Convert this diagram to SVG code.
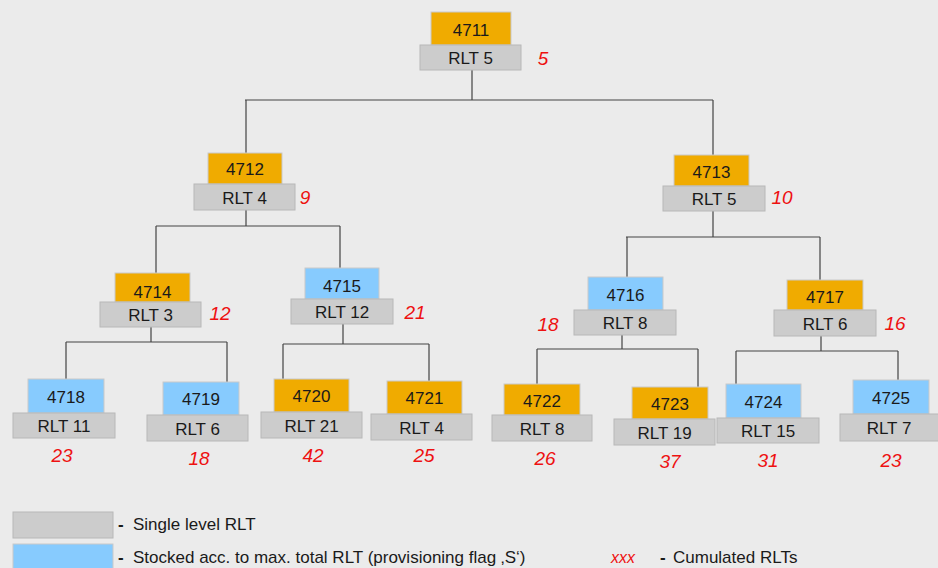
<svg xmlns="http://www.w3.org/2000/svg" width="938" height="568" viewBox="0 0 938 568">
<style>
.bg{fill:#ebebeb}
.o{fill:#f0ab00;stroke:#c9c9c9;stroke-width:1}
.b{fill:#87cbfe;stroke:#c9c9c9;stroke-width:1}
.g{fill:#cccccc;stroke:#b8b8b8;stroke-width:1}
.t{font-family:"Liberation Sans",Arial,sans-serif;font-size:17px;fill:#1a1a1a;text-anchor:middle}
.r{font-family:"Liberation Sans",Arial,sans-serif;font-size:17px;fill:#1a1a1a;text-anchor:middle}
.c{font-family:"Liberation Sans",Arial,sans-serif;font-size:19px;font-style:italic;fill:#ee1111;text-anchor:middle}
.l{font-family:"Liberation Sans",Arial,sans-serif;font-size:17px;fill:#1a1a1a}
.k{fill:none;stroke:#444;stroke-width:1.2}
</style>
<rect class="bg" x="0" y="0" width="938" height="568"/>
<g id="connectors" class="k">
<path d="M472 70V100M245 100H713M246 100V153M713 100V155"/>
<path d="M246 210V226M156 226H340M156 226V273M340 226V268"/>
<path d="M713 211V237M626 237H820M627 237V277M820 237V280"/>
<path d="M151 327V342M66 342H227M66 342V379M227 342V382"/>
<path d="M343 324V344M283 344H429M283 344V379M429 344V381"/>
<path d="M622 335V349M537 349H698M537 349V384M698 349V387"/>
<path d="M821 336V351M736 351H898M736 351V384M898 351V380"/>
</g>
<g id="n4711"><rect class="o" x="431" y="12" width="80" height="33"/><rect class="g" x="420" y="45" width="101" height="25"/><text class="t" x="471" y="36">4711</text><text class="r" x="470.500" y="64">RLT 5</text><text class="c" x="543" y="65">5</text></g>
<g id="n4712"><rect class="o" x="208" y="153" width="74" height="31"/><rect class="g" x="194" y="184" width="101" height="26"/><text class="t" x="245" y="175">4712</text><text class="r" x="244.500" y="204">RLT 4</text><text class="c" x="305" y="204">9</text></g>
<g id="n4713"><rect class="o" x="674" y="155" width="75" height="31"/><rect class="g" x="663" y="186" width="102" height="25"/><text class="t" x="711.500" y="178">4713</text><text class="r" x="714" y="205">RLT 5</text><text class="c" x="782" y="204">10</text></g>
<g id="n4714"><rect class="o" x="115" y="273" width="75" height="29"/><rect class="g" x="100" y="302" width="101" height="25"/><text class="t" x="152.500" y="298">4714</text><text class="r" x="150.500" y="321">RLT 3</text><text class="c" x="220" y="320">12</text></g>
<g id="n4715"><rect class="b" x="305" y="268" width="74" height="31"/><rect class="g" x="291" y="299" width="102" height="25"/><text class="t" x="342" y="292">4715</text><text class="r" x="342" y="318">RLT 12</text><text class="c" x="415" y="319">21</text></g>
<g id="n4716"><rect class="b" x="588" y="277" width="75" height="33"/><rect class="g" x="574" y="310" width="102" height="25"/><text class="t" x="625.500" y="301">4716</text><text class="r" x="625" y="329">RLT 8</text><text class="c" x="548" y="331">18</text></g>
<g id="n4717"><rect class="o" x="787" y="280" width="76" height="30"/><rect class="g" x="774" y="310" width="102" height="26"/><text class="t" x="825" y="303">4717</text><text class="r" x="825" y="330">RLT 6</text><text class="c" x="895" y="330">16</text></g>
<g id="n4718"><rect class="b" x="28" y="379" width="76" height="34"/><rect class="g" x="13" y="413" width="102" height="25"/><text class="t" x="66" y="403">4718</text><text class="r" x="64" y="432">RLT 11</text><text class="c" x="62" y="462">23</text></g>
<g id="n4719"><rect class="b" x="163" y="382" width="76" height="33"/><rect class="g" x="147" y="415" width="101" height="26"/><text class="t" x="201" y="405">4719</text><text class="r" x="197.500" y="435">RLT 6</text><text class="c" x="199" y="465">18</text></g>
<g id="n4720"><rect class="o" x="274" y="379" width="75" height="33"/><rect class="g" x="261" y="412" width="101" height="26"/><text class="t" x="311.500" y="402">4720</text><text class="r" x="311.500" y="432">RLT 21</text><text class="c" x="313" y="462">42</text></g>
<g id="n4721"><rect class="o" x="387" y="381" width="75" height="33"/><rect class="g" x="371" y="414" width="101" height="26"/><text class="t" x="424.500" y="404">4721</text><text class="r" x="421.500" y="434">RLT 4</text><text class="c" x="424" y="462">25</text></g>
<g id="n4722"><rect class="o" x="504" y="384" width="76" height="31"/><rect class="g" x="492" y="415" width="100" height="26"/><text class="t" x="542" y="407">4722</text><text class="r" x="542" y="435">RLT 8</text><text class="c" x="545" y="465">26</text></g>
<g id="n4723"><rect class="o" x="632" y="387" width="76" height="32"/><rect class="g" x="614" y="419" width="101" height="26"/><text class="t" x="670" y="410">4723</text><text class="r" x="664.500" y="439">RLT 19</text><text class="c" x="670" y="468">37</text></g>
<g id="n4724"><rect class="b" x="726" y="384" width="75" height="34"/><rect class="g" x="717" y="418" width="102" height="25"/><text class="t" x="763.500" y="408">4724</text><text class="r" x="768" y="437">RLT 15</text><text class="c" x="768" y="467">31</text></g>
<g id="n4725"><rect class="b" x="853" y="380" width="76" height="34"/><rect class="g" x="840" y="414" width="100" height="27"/><text class="t" x="891" y="404">4725</text><text class="r" x="889" y="434">RLT 7</text><text class="c" x="891" y="467">23</text></g>
<g id="legend">
<rect class="g" x="13" y="512" width="100" height="26"/>
<rect x="13" y="544" width="100" height="26" fill="#87cbfe" stroke="#c9c9c9"/>
<text class="l" x="118" y="530"><tspan font-weight="bold">-</tspan><tspan x="133">Single level RLT</tspan></text>
<text class="l" x="118" y="563"><tspan font-weight="bold">-</tspan><tspan x="133">Stocked acc. to max. total RLT (provisioning flag ‚S‘)</tspan></text>
<text x="611" y="563" font-family="Liberation Sans,Arial,sans-serif" font-size="16" font-style="italic" fill="#ee1111">xxx</text>
<text class="l" x="660" y="563"><tspan font-weight="bold">-</tspan><tspan x="673">Cumulated RLTs</tspan></text>
</g>
</svg>
